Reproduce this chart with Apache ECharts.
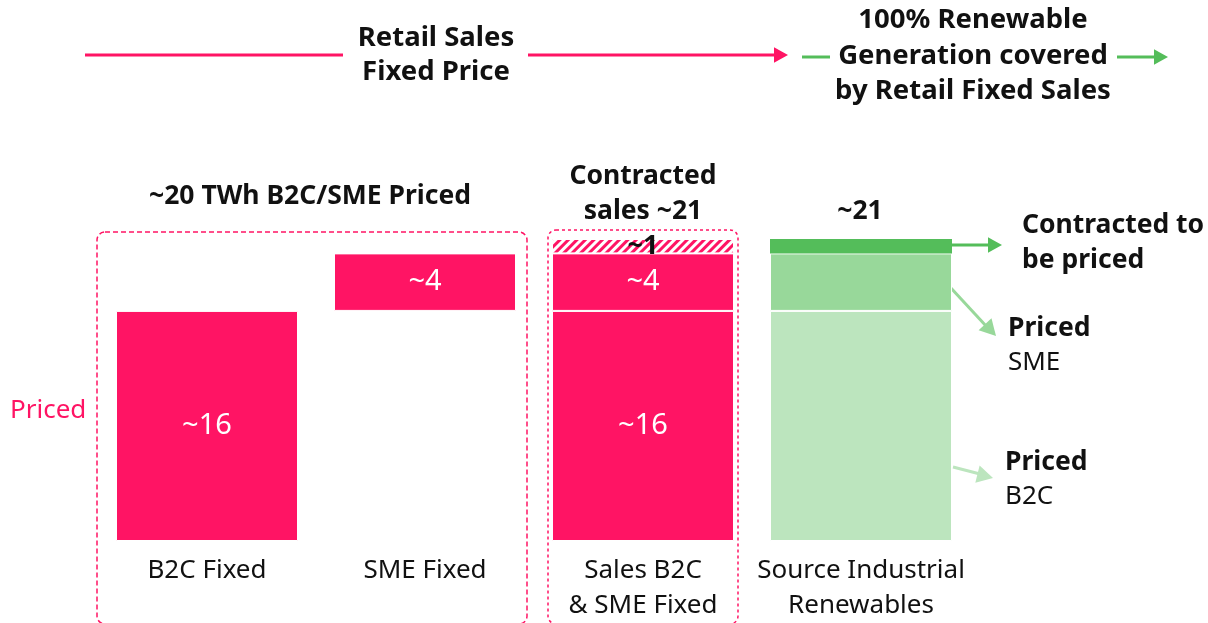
<!DOCTYPE html>
<html><head><meta charset="utf-8">
<script src="https://cdn.jsdelivr.net/npm/echarts@6/dist/echarts.min.js"></script>
<style>html,body{margin:0;padding:0;background:#fff}#c{width:1208px;height:623px}</style>
</head><body><div id="c"></div>
<script>
const categories = ['B2C Fixed', 'SME Fixed', 'Sales B2C\n& SME Fixed', 'Source Industrial\nRenewables'];
const baseOffset = [0, 16, 0, 0];
const pricedB2C = [16, null, 16, 16];
const pricedSME = [null, 4, 4, 4];
const contracted = [null, null, 1, 1];
const barLabels = ['~16', '~4', '~1'];

const PINK = '#FF1464', G1 = '#BCE5BE', G2 = '#98D89A', G3 = '#54BD5A';
const F = '"Noto Sans", Lato, sans-serif';
const chart = echarts.init(document.getElementById('c'));

const b2cData = pricedB2C.map((v, i) => v == null ? '-' : { value: v, itemStyle: { color: i === 3 ? G1 : PINK }, label: { show: i !== 3 } });
const smeData = pricedSME.map((v, i) => v == null ? '-' : { value: v, itemStyle: { color: i === 3 ? G2 : PINK }, label: { show: i !== 3 } });
const conData = contracted.map((v, i) => v == null ? '-' : (i === 3 ?
  { value: v, itemStyle: { color: G3, borderWidth: 0 }, label: { show: false } } :
  { value: v, itemStyle: { color: '#fff', decal: { symbol: 'rect', color: PINK, dashArrayX: [1, 0], dashArrayY: [3, 3], rotation: -Math.PI / 4 } }, label: { show: true } }));

function arrowHead(x, y, ang, color, size) {
  const s = size || 12;
  const p1 = [x, y];
  const p2 = [x - s * Math.cos(ang) + s * 0.55 * Math.sin(ang), y - s * Math.sin(ang) - s * 0.55 * Math.cos(ang)];
  const p3 = [x - s * Math.cos(ang) - s * 0.55 * Math.sin(ang), y - s * Math.sin(ang) + s * 0.55 * Math.cos(ang)];
  return { type: 'polygon', shape: { points: [p1, p2, p3] }, style: { fill: color }, silent: true };
}
function line(x1, y1, x2, y2, color, w) {
  return { type: 'line', shape: { x1, y1, x2, y2 }, style: { stroke: color, lineWidth: w || 3 }, silent: true };
}
function txt(x, y, text, opts) {
  return { type: 'text', x, y, silent: true, style: Object.assign({ text, font: 'bold 26.5px ' + F, fill: '#111', textAlign: 'center', textVerticalAlign: 'middle', lineHeight: 35 }, opts || {}) };
}
const TOP = 'bold 27.5px ' + F;
const REG = '26px ' + F;

chart.setOption({
  animation: false,
  grid: { left: 98, right: 238, top: 239, bottom: 80 },
  xAxis: {
    type: 'category', data: categories,
    axisLine: { show: false }, axisTick: { show: false },
    axisLabel: { fontSize: 26, fontFamily: F, color: '#111', margin: 12, lineHeight: 35, interval: 0 }
  },
  yAxis: { type: 'value', min: 0, max: 21, show: false, splitLine: { show: false } },
  series: [
    { type: 'bar', stack: 's', data: baseOffset, barWidth: 182, itemStyle: { color: 'transparent' }, silent: true },
    { type: 'bar', stack: 's', data: b2cData, barWidth: 182, itemStyle: { borderColor: '#fff', borderWidth: 1 },
      label: { position: 'inside', formatter: barLabels[0], color: '#fff', fontSize: 29, fontFamily: F } },
    { type: 'bar', stack: 's', data: smeData, barWidth: 182, itemStyle: { borderColor: '#fff', borderWidth: 1 },
      label: { position: 'inside', formatter: barLabels[1], color: '#fff', fontSize: 29, fontFamily: F } },
    { type: 'bar', stack: 's', data: conData, barWidth: 182, itemStyle: { borderColor: '#fff', borderWidth: 1 },
      label: { position: 'inside', formatter: barLabels[2], color: '#111', fontSize: 27, fontFamily: F, fontWeight: 'bold' } }
  ],
  graphic: [
    line(85, 55, 343, 55, PINK, 3),
    line(528, 55, 776, 55, PINK, 3),
    arrowHead(788, 55, 0, PINK, 14),
    txt(436, 38, 'Retail Sales', { font: TOP }),
    txt(436, 72, 'Fixed Price', { font: TOP }),
    line(802, 57, 830, 57, G3, 3),
    line(1117, 57, 1156, 57, G3, 3),
    arrowHead(1168, 57, 0, G3, 14),
    txt(973, 20, '100% Renewable', { font: TOP }),
    txt(973, 56, 'Generation covered', { font: TOP }),
    txt(973, 91, 'by Retail Fixed Sales', { font: TOP }),
    { type: 'rect', shape: { x: 97, y: 232, width: 430, height: 392, r: 8 }, style: { fill: 'none', stroke: PINK, lineWidth: 1.5, lineDash: [5, 3] }, silent: true },
    { type: 'rect', shape: { x: 548, y: 230, width: 190, height: 394, r: 8 }, style: { fill: 'none', stroke: PINK, lineWidth: 1.5, lineDash: [3, 3] }, silent: true },
    txt(310, 196, '~20 TWh B2C/SME Priced'),
    txt(643, 176, 'Contracted'),
    txt(643, 211, 'sales ~21'),
    txt(860, 211, '~21'),
    txt(10, 411, 'Priced', { font: REG, fill: PINK, textAlign: 'left' }),
    line(952, 245, 990, 245, G3, 3),
    arrowHead(1002, 245, 0, G3, 14),
    txt(1022, 225, 'Contracted to', { textAlign: 'left' }),
    txt(1022, 260, 'be priced', { textAlign: 'left' }),
    line(950, 287, 987, 327, G2, 3),
    arrowHead(996, 336, Math.atan2(49, 46), G2, 16),
    txt(1008, 328, 'Priced', { textAlign: 'left' }),
    txt(1008, 363, 'SME', { textAlign: 'left', font: REG }),
    line(953, 467, 980, 474, G1, 3),
    arrowHead(993, 478, Math.atan2(10, 40), G1, 16),
    txt(1005, 462, 'Priced', { textAlign: 'left' }),
    txt(1005, 497, 'B2C', { textAlign: 'left', font: REG })
  ]
});
</script>
</body></html>
